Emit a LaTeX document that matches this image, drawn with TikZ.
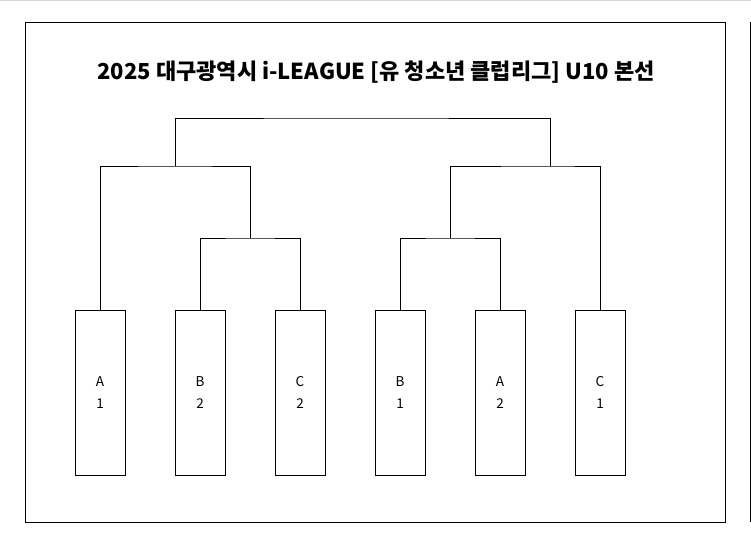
\documentclass[tikz,border=0pt]{standalone}
\usepackage{fontspec}
\setmainfont{Noto Sans CJK KR}
\begin{document}
\begin{tikzpicture}[x=1pt,y=-1pt,
  team/.style={draw,line width=0.9pt,minimum width=50pt,minimum height=165pt,inner sep=0pt,font=\fontsize{13.5}{22}\selectfont,align=center},
  br/.style={line width=0.9pt}]
\useasboundingbox (0,0) rectangle (751,546);
\draw[gray!30,line width=1.2pt] (0,0.6) -- (751,0.6);
\draw[line width=0.9pt] (25,22) rectangle (725,522);
\draw[line width=0.9pt] (750,22) -- (750,522);
\node[font=\bfseries\fontsize{22}{26}\selectfont] (title) at (376,72) {2025 대구광역시 i-LEAGUE [유 청소년 클럽리그] U10 본선};
\node[team] (a1) at (100,392.5) {A\\1};
\node[team] (b2) at (200,392.5) {B\\2};
\node[team] (c2) at (300,392.5) {C\\2};
\node[team] (b1) at (400,392.5) {B\\1};
\node[team] (a2) at (500,392.5) {A\\2};
\node[team] (c1) at (600,392.5) {C\\1};
\coordinate (m1) at (250,238);
\coordinate (m2) at (450,238);
\coordinate (s1) at (175,166);
\coordinate (s2) at (550,166);
\draw[br] (b2.north) |- (m1) -| (c2.north);
\draw[br] (b1.north) |- (m2) -| (a2.north);
\draw[br] (a1.north) |- (s1) -| (m1);
\draw[br] (m2) |- (s2) -| (c1.north);
\draw[br] (s1) |- (350,118) -| (s2);
\end{tikzpicture}
\end{document}
